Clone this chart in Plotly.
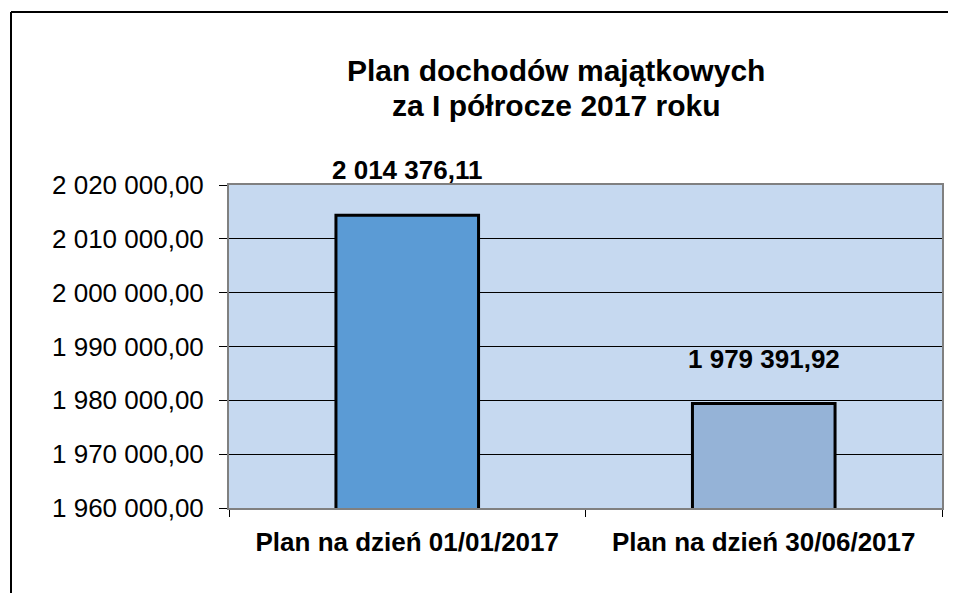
import plotly.graph_objects as go

categories = ["Plan na dzień 01/01/2017", "Plan na dzień 30/06/2017"]
values = [2014376.11, 1979391.92]
bar_colors = ["#5B9BD5", "#95B3D7"]
y_ticks = [1960000, 1970000, 1980000, 1990000, 2000000, 2010000, 2020000]
title_lines = ["Plan dochodów majątkowych", "za I półrocze 2017 roku"]

FONT = "Arial, 'Liberation Sans', sans-serif"


def fmt(v):
    return f"{v:,.2f}".replace(",", " ").replace(".", ",")


# page body has an 8px margin; lay out in figure coordinates accordingly
OFF = 8
W, H = 956 - OFF, 593 - OFF
ML = 229 - OFF
MT = 185 - OFF
PR = 942 - OFF
PB = 508 - OFF
MR = W - PR
MB = H - PB
pw, ph = PR - ML, PB - MT


def px_x(x):
    return (x - OFF - ML) / pw


def px_y(y):
    return 1 + (MT - (y - OFF)) / ph


fig = go.Figure()
fig.add_trace(go.Bar(
    x=categories,
    y=values,
    width=0.4,
    marker=dict(color=bar_colors, line=dict(color="black", width=3)),
    hoverinfo="skip",
))

for c, v in zip(categories, values):
    fig.add_annotation(
        x=c, y=v, xref="x", yref="y", text=fmt(v), showarrow=False,
        yanchor="middle", yshift=45,
        font=dict(family=FONT, size=26, color="black", weight="bold"),
    )

for line, yc in zip(title_lines, [71, 105]):
    fig.add_annotation(
        x=px_x(556), y=px_y(yc), xref="paper", yref="paper", text=line,
        showarrow=False, xanchor="center", yanchor="middle",
        font=dict(family=FONT, size=30, color="black", weight="bold"),
    )

# outer chart border (left and top edges visible)
fig.add_shape(type="line", xref="paper", yref="paper",
              x0=px_x(11), x1=px_x(11), y0=px_y(12), y1=px_y(600),
              line=dict(color="black", width=2))
fig.add_shape(type="line", xref="paper", yref="paper",
              x0=px_x(11), x1=px_x(965), y0=px_y(12), y1=px_y(12),
              line=dict(color="black", width=2))

fig.update_layout(
    width=W, height=H,
    margin=dict(l=ML, r=MR, t=MT, b=MB),
    paper_bgcolor="white",
    plot_bgcolor="#C6D9F0",
    separators=", ",
    showlegend=False,
    xaxis=dict(
        showgrid=False,
        showline=True, linecolor="#808080", linewidth=2, mirror=True,
        ticks="outside", tickson="boundaries", ticklen=7, tickcolor="black", tickwidth=1,
        ticklabelstandoff=10,
        tickfont=dict(family=FONT, size=26, color="black", weight="bold"),
    ),
    yaxis=dict(
        range=[1960000, 2020000],
        tickvals=y_ticks,
        tickformat=",.2f",
        showgrid=True, gridcolor="black", gridwidth=1,
        showline=True, linecolor="#808080", linewidth=2, mirror=True,
        ticks="outside", ticklen=8, tickcolor="black", tickwidth=1,
        ticklabelstandoff=10,
        tickfont=dict(family=FONT, size=26, color="black"),
        zeroline=False,
    ),
)

fig.write_html("out.html")
